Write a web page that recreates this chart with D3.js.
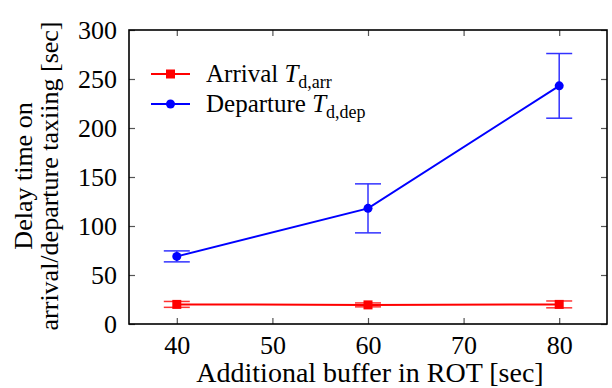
<!DOCTYPE html>
<html>
<head>
<meta charset="utf-8">
<script src="https://cdn.jsdelivr.net/npm/d3@7"></script>
</head>
<body style="margin:0; background:#fff">
<div id="chart"></div>
<script>
// Data
const buffers = [40, 60, 80];
const arrivalMean = [20, 19.5, 20];
const arrivalErr = [3, 2, 3.5];
const departureMean = [69, 118, 243];
const departureErr = [5.6, 25, 33];
const xTicks = [40, 50, 60, 70, 80];
const yTicks = [0, 50, 100, 150, 200, 250, 300];

const FONT = "'Liberation Serif', 'Times New Roman', serif";
const W = 612, H = 388;
const margin = { top: 30, right: 5, bottom: 64, left: 129 };
const width = W - margin.left - margin.right;
const height = H - margin.top - margin.bottom;

const svg = d3.select("#chart").append("svg")
  .attr("width", W).attr("height", H);

const g = svg.append("g")
  .attr("transform", `translate(${margin.left},${margin.top})`);

const x = d3.scaleLinear().domain([35, 85]).range([0, width]);
const y = d3.scaleLinear().domain([0, 300]).range([height, 0]);

// ticks (inward, mirrored on top/right)
const tickLen = 6;
g.append("g").attr("transform", `translate(0,${height})`)
  .call(d3.axisBottom(x).tickValues(xTicks).tickSize(-tickLen).tickPadding(12))
  .call(a => a.select(".domain").remove());
g.append("g")
  .call(d3.axisTop(x).tickValues(xTicks).tickSize(-tickLen).tickFormat(""))
  .call(a => a.select(".domain").remove());
g.append("g")
  .call(d3.axisLeft(y).tickValues(yTicks).tickSize(-tickLen).tickPadding(12))
  .call(a => a.select(".domain").remove());
g.append("g").attr("transform", `translate(${width},0)`)
  .call(d3.axisRight(y).tickValues(yTicks).tickSize(-tickLen).tickFormat(""))
  .call(a => a.select(".domain").remove());

g.selectAll(".tick line").attr("stroke", "#555").attr("stroke-width", 1.2);
g.selectAll(".tick text")
  .style("font-family", FONT)
  .style("font-size", "26px")
  .attr("fill", "#000");

// frame
g.append("rect")
  .attr("width", width).attr("height", height)
  .attr("fill", "none").attr("stroke", "#000").attr("stroke-width", 1.6);

const series = [
  { name: "Arrival", sub: "d,arr", mean: arrivalMean, err: arrivalErr, color: "#ff0000", shape: "square" },
  { name: "Departure", sub: "d,dep", mean: departureMean, err: departureErr, color: "#0000ff", shape: "circle" }
];

const capW = 13;
const line = d3.line().x(d => x(d.b)).y(d => y(d.m));

series.forEach(s => {
  const pts = buffers.map((b, i) => ({ b, m: s.mean[i], e: s.err[i] }));
  const sg = g.append("g");

  // error bars
  pts.forEach(p => {
    const eb = sg.append("g").attr("stroke", s.color).attr("stroke-width", 1.5).attr("opacity", 0.8);
    eb.append("line")
      .attr("x1", x(p.b)).attr("x2", x(p.b))
      .attr("y1", y(p.m - p.e)).attr("y2", y(p.m + p.e));
    [p.m - p.e, p.m + p.e].forEach(v => {
      eb.append("line")
        .attr("x1", x(p.b) - capW).attr("x2", x(p.b) + capW)
        .attr("y1", y(v)).attr("y2", y(v));
    });
  });

  sg.append("path").datum(pts)
    .attr("d", line).attr("fill", "none")
    .attr("stroke", s.color).attr("stroke-width", 2);

  pts.forEach(p => {
    if (s.shape === "square") {
      sg.append("rect")
        .attr("x", x(p.b) - 4.5).attr("y", y(p.m) - 4.5)
        .attr("width", 9).attr("height", 9).attr("fill", s.color);
    } else {
      sg.append("circle")
        .attr("cx", x(p.b)).attr("cy", y(p.m)).attr("r", 4.5).attr("fill", s.color);
    }
  });
});

// legend
const legend = g.append("g").attr("transform", `translate(${151 - margin.left},${74 - margin.top})`);
series.forEach((s, i) => {
  const row = legend.append("g").attr("transform", `translate(0,${i * 30})`);
  row.append("line").attr("x1", 0).attr("x2", 39).attr("y1", 0).attr("y2", 0)
    .attr("stroke", s.color).attr("stroke-width", 2);
  if (s.shape === "square") {
    row.append("rect").attr("x", 15).attr("y", -4.5).attr("width", 9).attr("height", 9).attr("fill", s.color);
  } else {
    row.append("circle").attr("cx", 19.5).attr("cy", 0).attr("r", 4.5).attr("fill", s.color);
  }
  const t = row.append("text").attr("x", 55).attr("y", 8)
    .style("font-family", FONT).style("font-size", "25px").attr("fill", "#000");
  t.append("tspan").text(s.name + " ");
  t.append("tspan").style("font-style", "italic").text("T");
  t.append("tspan").style("font-size", "18px").attr("dy", 6).text(s.sub);
});

// axis titles
svg.append("text")
  .attr("x", 370).attr("y", 382)
  .attr("text-anchor", "middle")
  .style("font-family", FONT).style("font-size", "28px")
  .text("Additional buffer in ROT [sec]");

const yt = svg.append("text")
  .attr("transform", "translate(0,176) rotate(-90)")
  .attr("text-anchor", "middle")
  .style("font-family", FONT).style("font-size", "26px");
yt.append("tspan").attr("x", 0).attr("y", 32).text("Delay time on");
yt.append("tspan").attr("x", 0).attr("y", 58).text("arrival/departure taxiing [sec]");
</script>
</body>
</html>
